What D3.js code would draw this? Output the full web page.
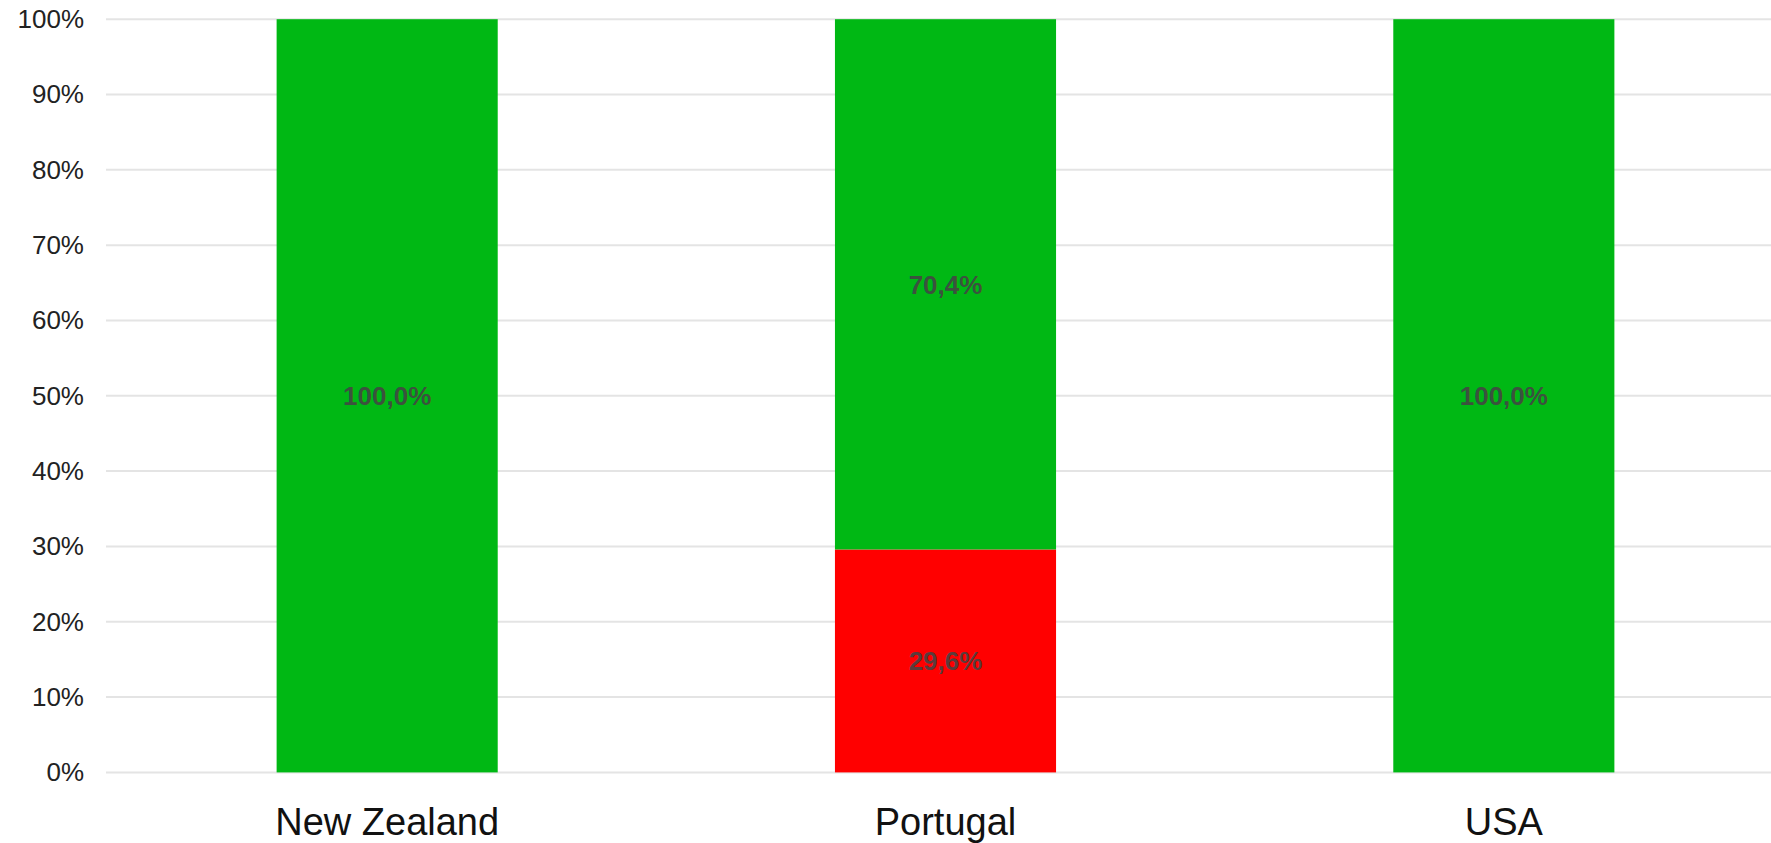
<!DOCTYPE html>
<html>
<head>
<meta charset="utf-8">
<script src="https://cdn.jsdelivr.net/npm/d3@7"></script>
<style>
  html, body { margin: 0; padding: 0; background: #fff; }
  svg { display: block; }
</style>
</head>
<body>
<svg id="chart" width="1771" height="843"></svg>
<script>
const categories = ["New Zealand", "Portugal", "USA"];
const seriesNames = ["red", "green"];
const redValues = [0, 29.6, 0];
const greenValues = [100, 70.4, 100];
const seriesColors = ["#ff0000", "#00b814"];
const yTicks = [0, 10, 20, 30, 40, 50, 60, 70, 80, 90, 100];

const svg = d3.select("#chart");
const W = 1771, H = 843;
const plot = { left: 108, right: 1783, top: 19.2, bottom: 772.4 };

const rows = categories.map((c, i) => ({ cat: c, red: redValues[i], green: greenValues[i] }));
const stack = d3.stack().keys(seriesNames)(rows);

const x = d3.scaleBand().domain(categories).range([plot.left, plot.right])
  .paddingInner(0.604).paddingOuter(0.302);
const y = d3.scaleLinear().domain([0, 100]).range([plot.bottom, plot.top]);

// gridlines
svg.append("g").selectAll("line").data(yTicks).join("line")
  .attr("x1", 106).attr("x2", W)
  .attr("y1", d => y(d)).attr("y2", d => y(d))
  .attr("stroke", "#e4e4e4").attr("stroke-width", 2);

// y axis labels
const yAxis = d3.axisLeft(y).tickValues(yTicks).tickFormat(d => d + "%").tickSize(0).tickPadding(0);
const gy = svg.append("g").attr("transform", "translate(84,0)").call(yAxis);
gy.select(".domain").remove();
gy.selectAll("text").attr("font-family", "Liberation Sans, Arial, sans-serif")
  .attr("font-size", 26).attr("fill", "#222");

// bars
const layers = svg.append("g").selectAll("g").data(stack).join("g")
  .attr("fill", (d, i) => seriesColors[i]);
layers.selectAll("rect").data(d => d.filter(p => p[1] - p[0] > 0)).join("rect")
  .attr("x", d => x(d.data.cat))
  .attr("width", x.bandwidth())
  .attr("y", d => y(d[1]))
  .attr("height", d => y(d[0]) - y(d[1]));

// value labels
const labels = svg.append("g");
stack.forEach(layer => {
  layer.filter(p => p[1] - p[0] > 0).forEach(p => {
    labels.append("text")
      .attr("x", x(p.data.cat) + x.bandwidth() / 2)
      .attr("y", y((p[0] + p[1]) / 2))
      .attr("dy", "0.36em")
      .attr("text-anchor", "middle")
      .attr("font-family", "Liberation Sans, Arial, sans-serif")
      .attr("font-weight", "bold")
      .attr("font-size", 26)
      .attr("fill", "#444")
      .attr("fill-opacity", 0.9)
      .text((p[1] - p[0]).toFixed(1).replace(".", ",") + "%");
  });
});

// x axis labels
const xAxis = d3.axisBottom(x).tickSize(0).tickPadding(0);
const gx = svg.append("g").attr("transform", "translate(0,808)").call(xAxis);
gx.select(".domain").remove();
gx.selectAll("text").attr("font-family", "Liberation Sans, Arial, sans-serif")
  .attr("font-size", 38).attr("fill", "#111").attr("dy", "0.72em");
</script>
</body>
</html>
